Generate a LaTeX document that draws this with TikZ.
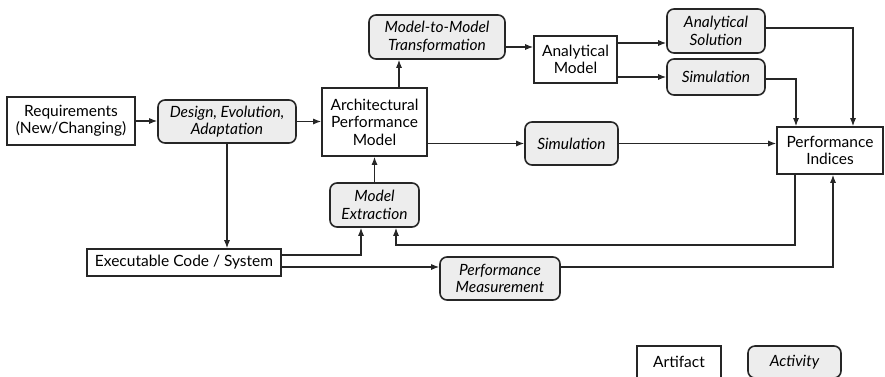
\documentclass[tikz,border=0pt]{standalone}
\usepackage{fontspec}
\setmainfont{Lato}
\usetikzlibrary{arrows.meta,calc}
\begin{document}
\begin{tikzpicture}[x=1pt,y=-1pt,
  font=\fontsize{15.5}{17.5}\selectfont,
  artifact/.style={draw=black!85,line width=1.6pt,fill=white,align=center,inner sep=0pt},
  activity/.style={artifact,rounded corners=7pt,fill=black!7,font=\fontsize{15.5}{17.5}\selectfont\itshape},
  arr/.style={draw=black!85,line width=1.1pt,-{Latex[length=8pt,width=6pt]}}]
\useasboundingbox (0,0) rectangle (885,376);
\clip (0,0) rectangle (885,376);
\node[artifact,minimum width=128pt,minimum height=48pt] (req) at (71,121) {Requirements\\(New/Changing)};
\node[activity,minimum width=138pt,minimum height=43pt] (design) at (227,121.5) {Design, Evolution,\\Adaptation};
\node[artifact,minimum width=105pt,minimum height=68pt] (arch) at (374.5,122) {Architectural\\Performance\\Model};
\node[activity,minimum width=136pt,minimum height=44pt] (m2m) at (437,37) {Model-to-Model\\Transformation};
\node[artifact,minimum width=83pt,minimum height=47pt] (am) at (575.5,59.5) {Analytical\\Model};
\node[activity,minimum width=98pt,minimum height=44pt] (as) at (716,31) {Analytical\\Solution};
\node[activity,minimum width=98pt,minimum height=36pt] (simtop) at (716,77) {Simulation};
\node[artifact,minimum width=106pt,minimum height=47pt] (pi) at (830,150.5) {Performance\\Indices};
\node[activity,minimum width=93pt,minimum height=43pt] (sim) at (571.5,143.5) {Simulation};
\node[activity,minimum width=89pt,minimum height=44pt] (me) at (374.5,205) {Model\\Extraction};
\node[artifact,minimum width=194pt,minimum height=27pt] (exec) at (184,262.5) {Executable Code / System};
\node[activity,minimum width=120pt,minimum height=43pt] (pm) at (500,278.5) {Performance\\Measurement};
\node[artifact,minimum width=84pt,minimum height=32pt] (lart) at (679,362) {Artifact};
\node[activity,minimum width=93pt,minimum height=32pt] (lact) at (794.5,362) {Activity};
\coordinate (x399) at (399,0);
\coordinate (y47) at (0,47);
\coordinate (y43) at (0,43);
\coordinate (y28) at (0,28);
\coordinate (y79) at (0,79);
\coordinate (x853) at (853,0);
\coordinate (x796) at (796,0);
\coordinate (y255) at (0,255);
\coordinate (y267) at (0,267);
\coordinate (x361) at (361,0);
\coordinate (x396) at (396,0);
\coordinate (x795) at (795,0);
\coordinate (y245) at (0,245);
\coordinate (x833) at (833,0);
\draw[arr] (req.east) -- (design.west |- req.east);
\draw[arr] (design.east) -- (arch.west |- design.east);
\draw[arr] (arch.north -| x399) -- (m2m.south -| x399);
\draw[arr] (m2m.east |- y47) -- (am.west |- y47);
\draw[arr] (am.east |- y43) -- (as.west |- y43);
\draw[arr] (am.east |- simtop.west) -- (simtop.west);
\draw[arr] (as.east |- y28) -| (pi.north -| x853);
\draw[arr] (simtop.east |- y79) -| (pi.north -| x796);
\draw[arr] (arch.east |- sim.west) -- (sim.west);
\draw[arr] (sim.east) -- (pi.west |- sim.east);
\draw[arr] (me.north) -- (arch.south);
\draw[arr] (design.south) -- (exec.north -| design.south);
\draw[arr] (exec.east |- y255) -| (me.south -| x361);
\draw[arr] (pi.south -| x795) |- (x396 |- y245) -- (me.south -| x396);
\draw[arr] (exec.east |- y267) -- (pm.west |- y267);
\draw[arr] (pm.east |- y267) -| (pi.south -| x833);
\end{tikzpicture}
\end{document}
